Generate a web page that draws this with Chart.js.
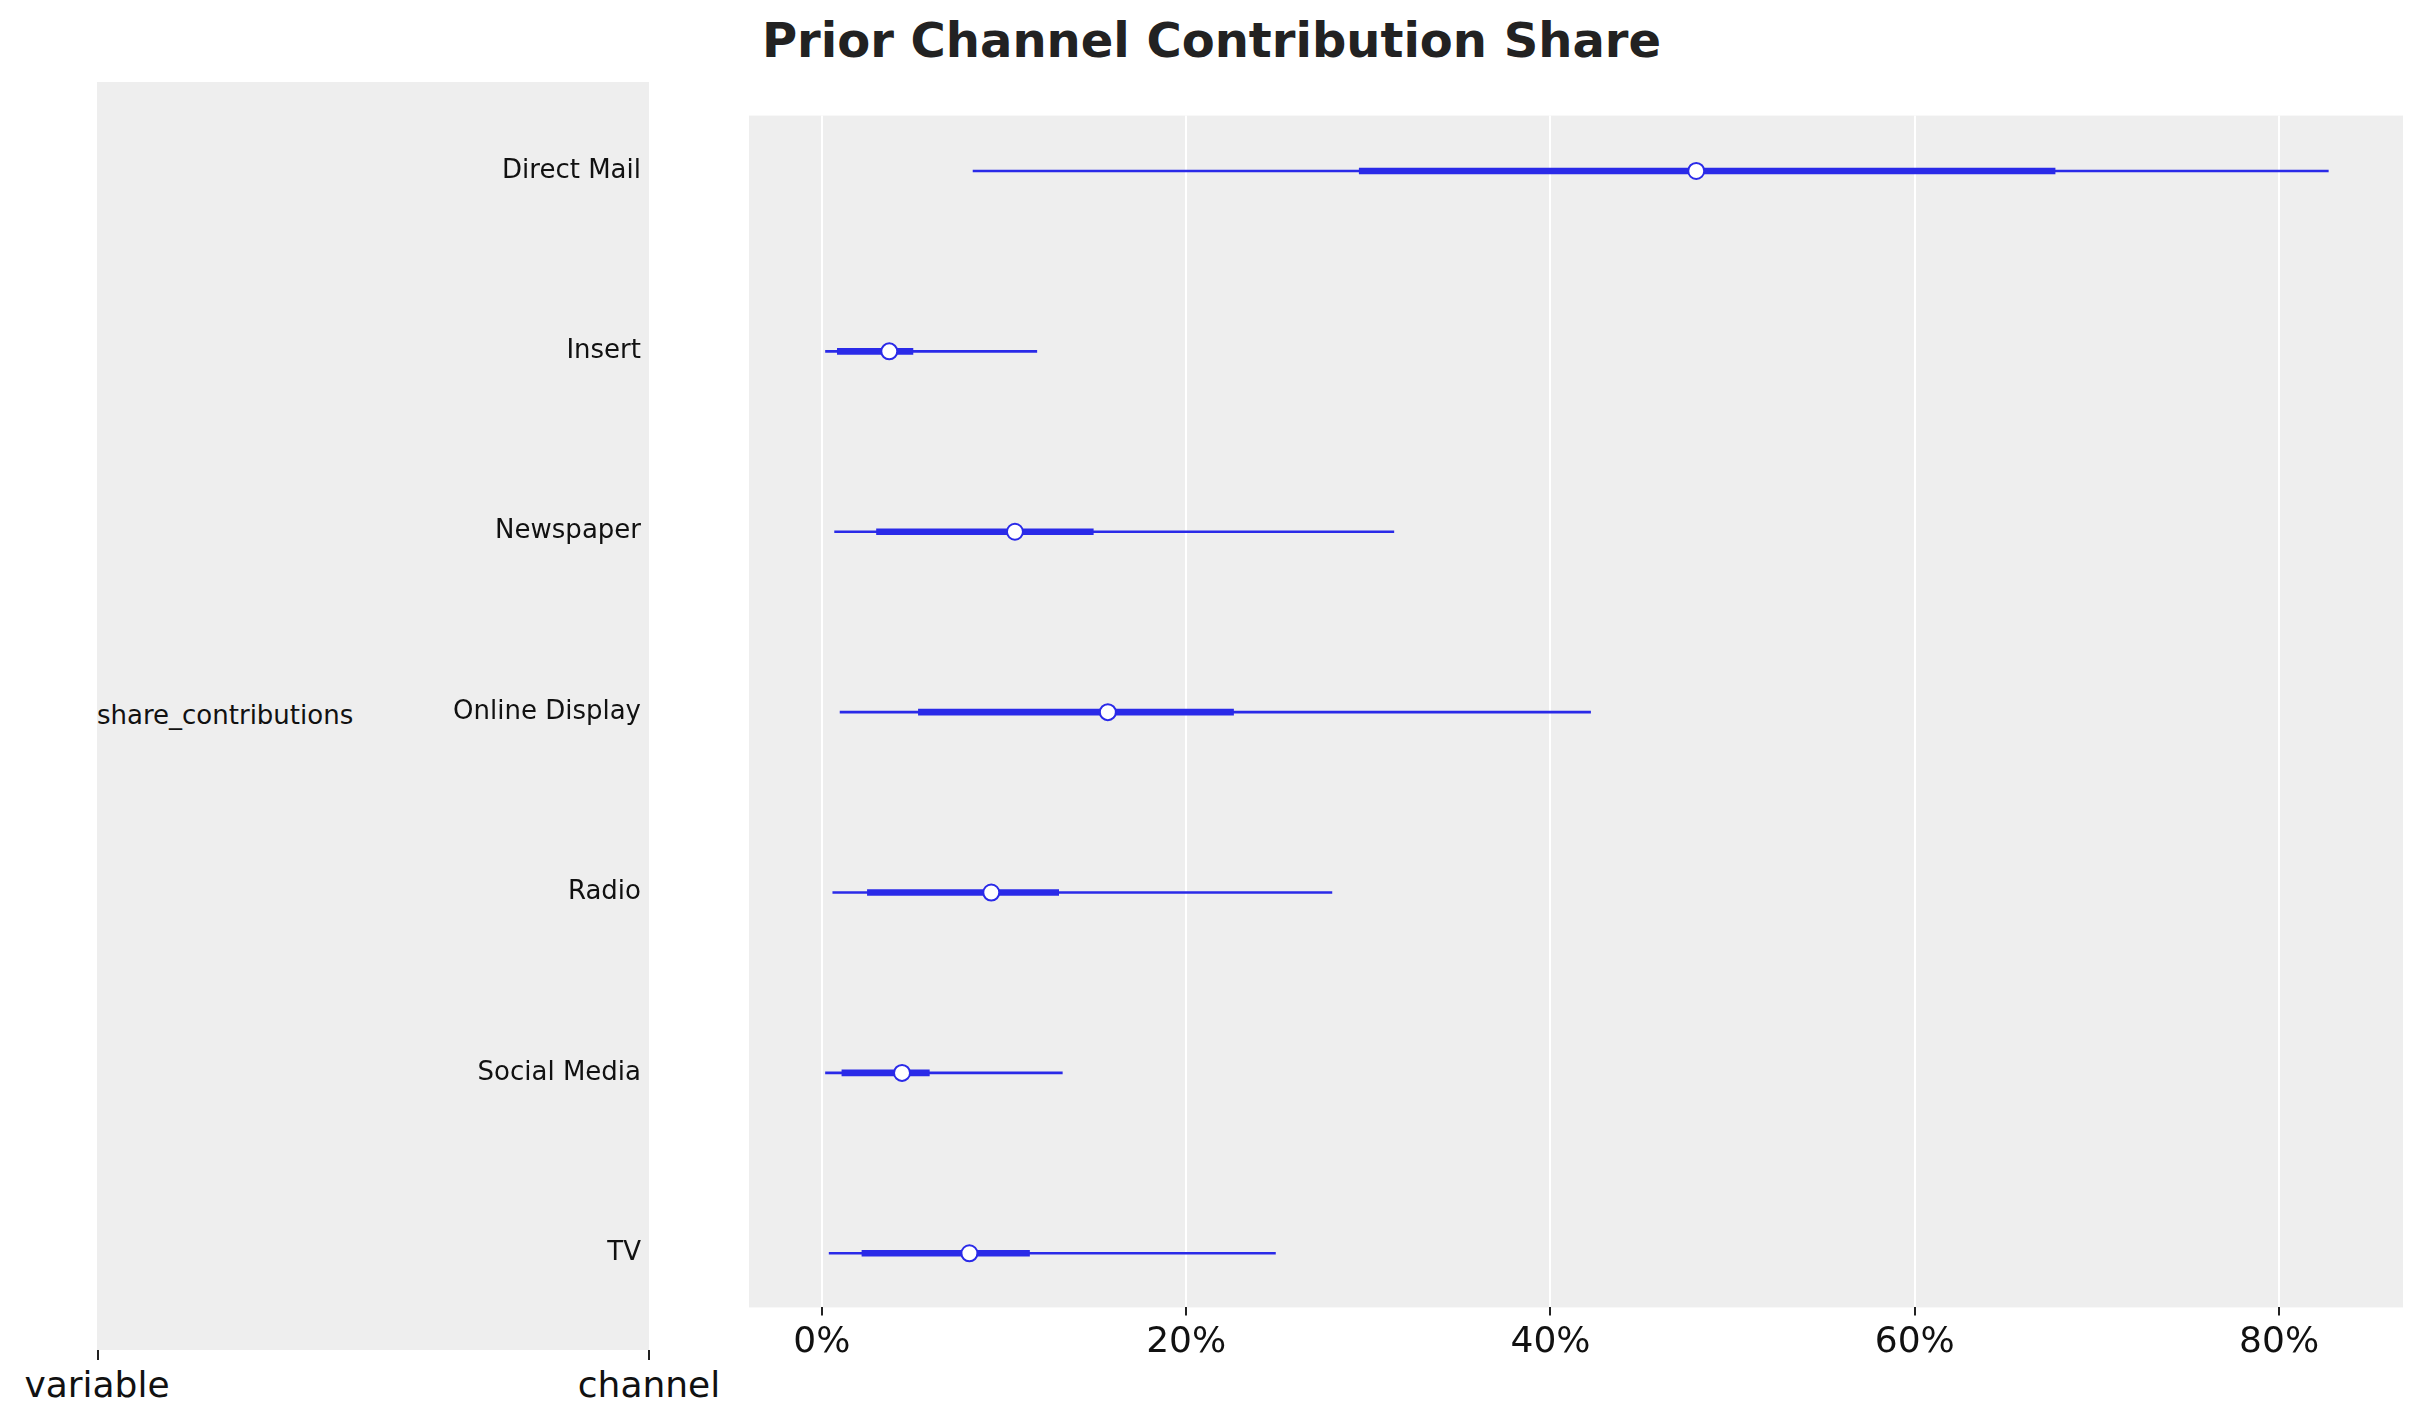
<!DOCTYPE html>
<html><head><meta charset="utf-8">
<script src="https://cdn.jsdelivr.net/npm/chart.js@4"></script>
<style>
body{margin:0;width:2423px;height:1423px;background:#fff;font-family:"DejaVu Sans",sans-serif;position:relative;overflow:hidden}
#panel{position:absolute;left:97px;top:82px;width:552px;height:1268px;background:#eeeeee}
.t{position:absolute;color:#111;white-space:nowrap}
#c{position:absolute;left:0;top:0}
</style></head><body>
<div id="panel"></div>
<div class="t" style="left:0;width:2423px;top:12px;text-align:center;font-size:48px;font-weight:bold;color:#222">Prior Channel Contribution Share</div>
<div class="t" style="left:97px;top:700px;font-size:26px">share_contributions</div>
<div class="t" style="left:97px;top:1350px;width:2px;height:10px;background:#222"></div>
<div class="t" style="left:648px;top:1350px;width:2px;height:10px;background:#222"></div>
<div class="t" style="left:97px;top:1364px;font-size:36px;transform:translateX(-50%)">variable</div>
<div class="t" style="left:649px;top:1364px;font-size:36px;transform:translateX(-50%)">channel</div>
<canvas id="c" width="2423" height="1423"></canvas>
<script>
const channels=["TV","Social Media","Radio","Online Display","Newspaper","Insert","Direct Mail"];
const lo94=[0.4,0.2,0.6,1.0,0.7,0.2,8.3];
const hi94=[24.9,13.2,28.0,42.2,31.4,11.8,82.7];
const loQ=[2.2,1.1,2.5,5.3,3.0,0.85,29.5];
const hiQ=[11.4,5.9,13.0,22.6,14.9,5.0,67.7];
const med=[8.1,4.4,9.3,15.7,10.6,3.7,48.0];
const xTicks=[0,20,40,60,80];
const blue='#2a2ae8';
const bg={id:'bg',beforeDraw(c){const a=c.chartArea,x=c.ctx;x.save();x.fillStyle='#eeeeee';x.fillRect(a.left,a.top,a.right-a.left,a.bottom-a.top);x.restore();}};
new Chart(document.getElementById('c'),{
 data:{datasets:[
  {type:'bar',data:channels.map((c,i)=>({x:[lo94[i],hi94[i]],y:i})),backgroundColor:blue,barThickness:2,grouped:false,order:3},
  {type:'bar',data:channels.map((c,i)=>({x:[loQ[i],hiQ[i]],y:i})),backgroundColor:blue,barThickness:6,grouped:false,order:2},
  {type:'scatter',data:channels.map((c,i)=>({x:med[i],y:i})),pointRadius:8,pointBackgroundColor:'#fff',pointBorderColor:blue,pointBorderWidth:2,order:1}
 ]},
 options:{indexAxis:'y',responsive:false,animation:false,
  layout:{padding:{left:0,right:20,top:82,bottom:0}},
  plugins:{legend:{display:false},tooltip:{enabled:false},title:{display:false}},
  scales:{
   x:{type:'linear',min:-4,max:86.8,position:'bottom',offset:false,
    afterBuildTicks(s){s.ticks=xTicks.map(v=>({value:v}));},
    afterFit(s){s.height=73;},
    ticks:{callback:v=>v+'%',font:{size:36,family:'DejaVu Sans'},color:'#111',padding:6},
    grid:{color:'#fff',lineWidth:2,drawTicks:true,tickLength:8,tickColor:'#222'},border:{display:false}},
   y:{type:'linear',min:-0.3,max:6.307,offset:false,
    afterBuildTicks(s){s.ticks=channels.map((c,i)=>({value:i}));},
    afterFit(s){s.width=749;},
    ticks:{callback:v=>channels[v],font:{size:26,family:'DejaVu Sans'},color:'#111',padding:100},
    grid:{display:false},border:{display:false}}
  }}
 ,plugins:[bg]});
</script></body></html>
